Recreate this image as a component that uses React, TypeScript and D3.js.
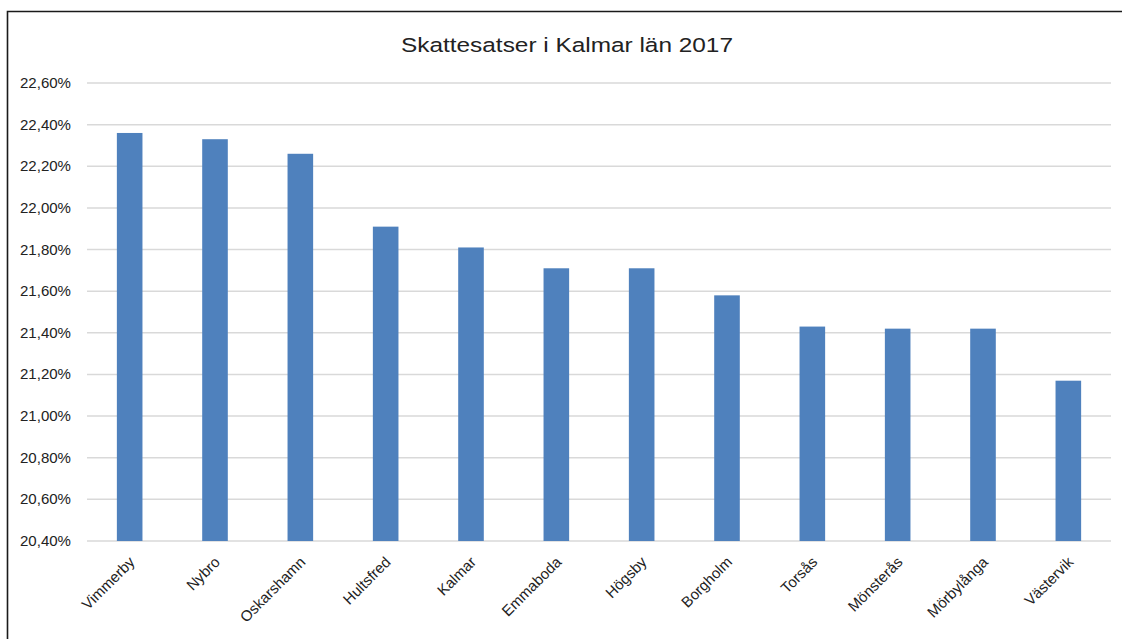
import React from "react";
import * as d3 from "d3";

const categories = ["Vimmerby", "Nybro", "Oskarshamn", "Hultsfred", "Kalmar", "Emmaboda", "Högsby", "Borgholm", "Torsås", "Mönsterås", "Mörbylånga", "Västervik"];
const values = [22.36, 22.33, 22.26, 21.91, 21.81, 21.71, 21.71, 21.58, 21.43, 21.42, 21.42, 21.17];
const yTicks = [20.4, 20.6, 20.8, 21.0, 21.2, 21.4, 21.6, 21.8, 22.0, 22.2, 22.4, 22.6];
const title = "Skattesatser i Kalmar län 2017";

const W = 1122;
const H = 639;
const left = 87;
const right = 1111;
const top = 83;
const bottom = 541;

export default function App() {
  const x = d3.scaleBand<string>().domain(categories).range([left, right]).paddingInner(0.7).paddingOuter(0.35);
  const y = d3.scaleLinear().domain([20.4, 22.6]).range([bottom, top]);
  const fmt = (v: number) => v.toFixed(2).replace(".", ",") + "%";
  const font = "'Liberation Sans', Arial, sans-serif";
  return (
    <svg width={W} height={H} style={{ position: "absolute", left: 0, top: 0 }} fontFamily={font}>
      <rect x={0} y={0} width={W} height={H} fill="#fff" />
      <path d={`M7.5,${H} L7.5,11.5 L${W},11.5`} fill="none" stroke="#1a1a1a" strokeWidth={1.6} />
      <text x={567} y={52} textAnchor="middle" fontSize={20.5} fill="#222" textLength={332} lengthAdjust="spacingAndGlyphs">{title}</text>
      {yTicks.map((t) => (
        <g key={t}>
          <line x1={left} x2={right} y1={y(t)} y2={y(t)} stroke="#d9d9d9" strokeWidth={1.5} />
          <text x={71} y={y(t) + 5} textAnchor="end" fontSize={14.5} fill="#222" textLength={51} lengthAdjust="spacingAndGlyphs">{fmt(t)}</text>
        </g>
      ))}
      {categories.map((c, i) => (
        <rect key={c} x={x(c)} y={y(values[i])} width={x.bandwidth()} height={bottom - y(values[i])} fill="#4f81bd" />
      ))}
      {categories.map((c) => {
        const cx = (x(c) as number) + x.bandwidth() / 2 + 6;
        const cy = 563;
        return (
          <text key={c} transform={`translate(${cx},${cy}) rotate(-45)`} textAnchor="end" fontSize={15} fill="#222">{c}</text>
        );
      })}
    </svg>
  );
}
